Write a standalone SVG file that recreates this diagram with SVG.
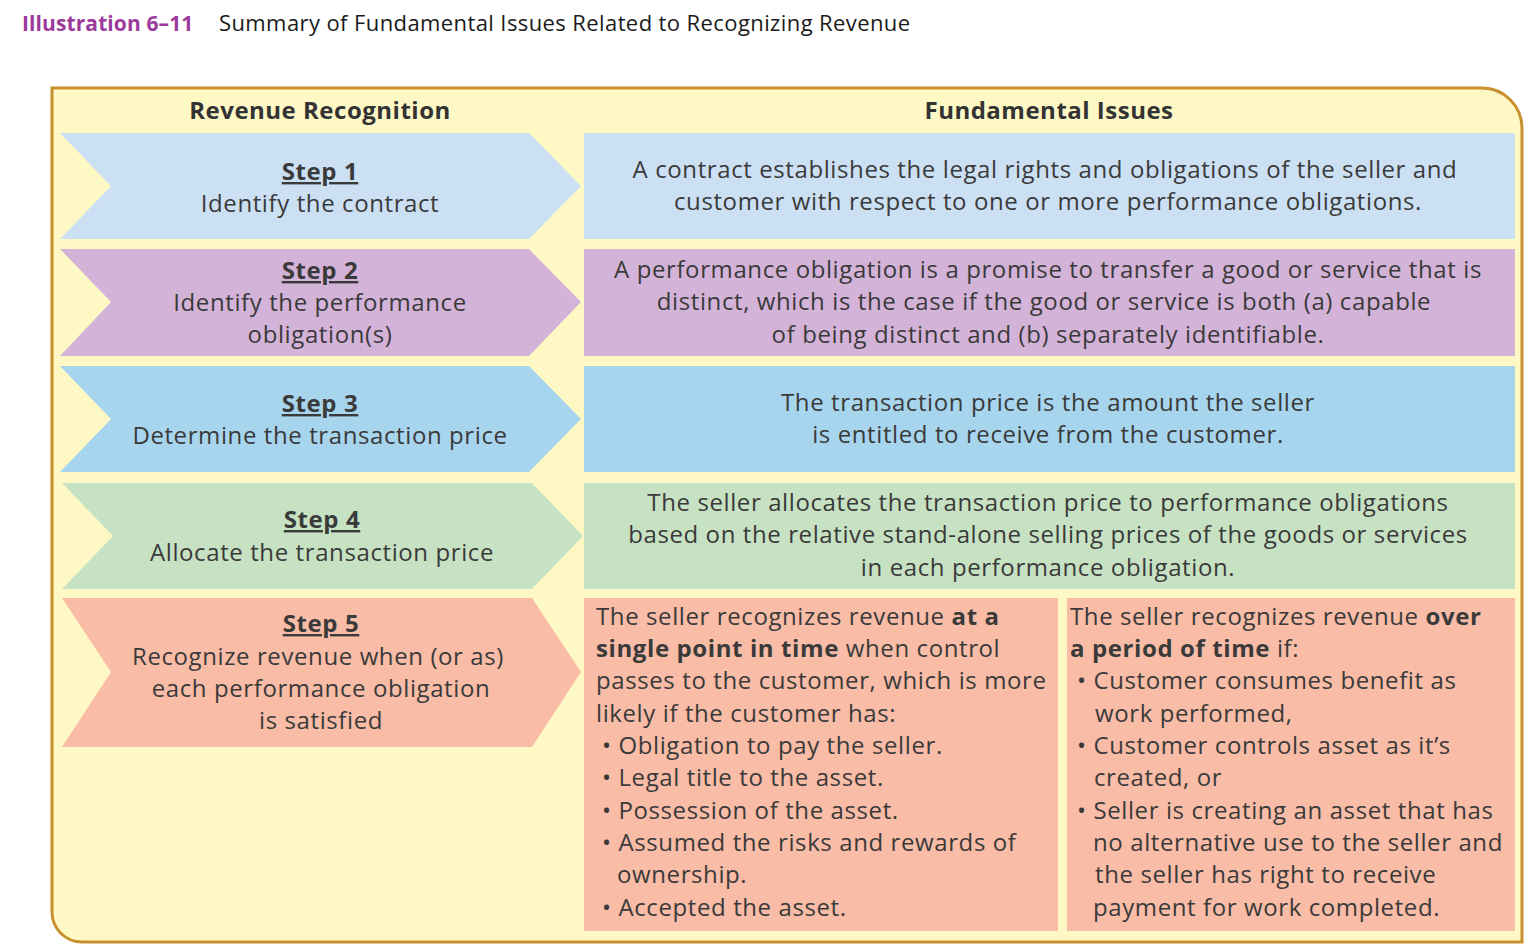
<svg xmlns="http://www.w3.org/2000/svg" width="1525" height="952" viewBox="0 0 1525 952">
<style>
text{font-family:"Open Sans",Lato,"Liberation Sans",sans-serif;fill:#3a3a3a;font-size:24px;letter-spacing:0.6px}
.c{text-anchor:middle}
.b{font-weight:bold}
.h{font-weight:bold;font-size:24px;fill:#333;letter-spacing:0.5px}
.st{font-weight:bold;text-decoration:underline}
.s1{fill:#CCE0F4}.s2{fill:#D4B3D8}.s3{fill:#A7D5EE}.s4{fill:#C7E2C3}.s5{fill:#F9BCA6}
</style>
<rect width="1525" height="952" fill="#fff"/>
<g id="title">
<text x="22" y="31" style="font-size:21px;font-weight:bold;fill:#9B3A9B;letter-spacing:0.1px">Illustration 6–11</text>
<text x="219" y="31" style="font-size:22px;fill:#1a1a1a;letter-spacing:0.4px">Summary of Fundamental Issues Related to Recognizing Revenue</text>
</g>
<g id="frame">
<path d="M52,88 H1482 A40,40 0 0 1 1522,128 V942 H82 A30,30 0 0 1 52,912 Z" fill="#FEF8C5" stroke="#C8912F" stroke-width="3"/>
<text class="h c" x="320" y="119">Revenue Recognition</text>
<text class="h c" x="1049" y="119">Fundamental Issues</text>
</g>
<g id="step1">
<polygon class="s1" points="60,133 529,133 581,186 529,239 60,239 111,186"/>
<text class="st c" x="320" y="180">Step 1</text>
<text class="c" x="320" y="212">Identify the contract</text>
</g>
<g id="issue1">
<rect class="s1" x="584" y="133" width="931" height="106"/>
<text class="c" x="1045" y="178">A contract establishes the legal rights and obligations of the seller and</text>
<text class="c" x="1048" y="210">customer with respect to one or more performance obligations.</text>
</g>
<g id="step2">
<polygon class="s2" points="60,249 529,249 581,302 529,356 60,356 111,302"/>
<text class="st c" x="320" y="279">Step 2</text>
<text class="c" x="320" y="311">Identify the performance</text>
<text class="c" x="320" y="343">obligation(s)</text>
</g>
<g id="issue2">
<rect class="s2" x="584" y="249" width="931" height="107"/>
<text class="c" x="1048" y="278">A performance obligation is a promise to transfer a good or service that is</text>
<text class="c" x="1044" y="310">distinct, which is the case if the good or service is both (a) capable</text>
<text class="c" x="1048" y="343">of being distinct and (b) separately identifiable.</text>
</g>
<g id="step3">
<polygon class="s3" points="60,366 529,366 581,419 529,472 60,472 111,419"/>
<text class="st c" x="320" y="412">Step 3</text>
<text class="c" x="320" y="444">Determine the transaction price</text>
</g>
<g id="issue3">
<rect class="s3" x="584" y="366" width="931" height="106"/>
<text class="c" x="1048" y="411">The transaction price is the amount the seller</text>
<text class="c" x="1048" y="443">is entitled to receive from the customer.</text>
</g>
<g id="step4">
<polygon class="s4" points="62,483 532,483 583,536 532,589 62,589 113,536"/>
<text class="st c" x="322" y="528">Step 4</text>
<text class="c" x="322" y="561">Allocate the transaction price</text>
</g>
<g id="issue4">
<rect class="s4" x="584" y="483" width="931" height="106"/>
<text class="c" x="1048" y="511">The seller allocates the transaction price to performance obligations</text>
<text class="c" x="1048" y="543">based on the relative stand-alone selling prices of the goods or services</text>
<text class="c" x="1048" y="576">in each performance obligation.</text>
</g>
<g id="step5">
<polygon class="s5" points="62,598 532,598 581,672 532,747 62,747 111,672"/>
<text class="st c" x="321" y="632">Step 5</text>
<text class="c" x="318" y="665">Recognize revenue when (or as)</text>
<text class="c" x="321" y="697">each performance obligation</text>
<text class="c" x="321" y="729">is satisfied</text>
</g>
<g id="issue5a">
<rect class="s5" x="584" y="598" width="474" height="333"/>
<text x="596" y="625">The seller recognizes revenue <tspan class="b">at a</tspan></text>
<text x="596" y="657"><tspan class="b">single point in time</tspan> when control</text>
<text x="596" y="689">passes to the customer, which is more</text>
<text x="596" y="722">likely if the customer has:</text>
<text x="602" y="754">• Obligation to pay the seller.</text>
<text x="602" y="786">• Legal title to the asset.</text>
<text x="602" y="819">• Possession of the asset.</text>
<text x="602" y="851">• Assumed the risks and rewards of</text>
<text x="617" y="883">ownership.</text>
<text x="602" y="916">• Accepted the asset.</text>
</g>
<g id="issue5b">
<rect class="s5" x="1067" y="598" width="448" height="333"/>
<text x="1070" y="625">The seller recognizes revenue <tspan class="b">over</tspan></text>
<text x="1070" y="657"><tspan class="b">a period of time</tspan> if:</text>
<text x="1077" y="689">• Customer consumes benefit as</text>
<text x="1095" y="722">work performed,</text>
<text x="1077" y="754">• Customer controls asset as it’s</text>
<text x="1094" y="786">created, or</text>
<text x="1077" y="819">• Seller is creating an asset that has</text>
<text x="1093" y="851">no alternative use to the seller and</text>
<text x="1095" y="883">the seller has right to receive</text>
<text x="1093" y="916">payment for work completed.</text>
</g>
<g id="connectors"/>
</svg>
